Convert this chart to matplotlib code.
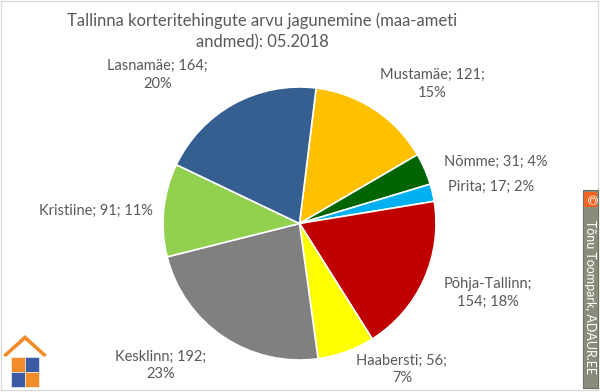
import matplotlib.pyplot as plt
from matplotlib.patches import Rectangle, Polygon

plt.rcParams['font.family'] = ['Lato', 'DejaVu Sans']

# data
districts = ["Mustamäe", "Nõmme", "Pirita", "Põhja-Tallinn",
             "Haabersti", "Kesklinn", "Kristiine", "Lasnamäe"]
deals = [121, 31, 17, 154, 56, 192, 91, 164]
shares = [15, 4, 2, 18, 7, 23, 11, 20]
title = "Tallinna korteritehingute arvu jagunemine (maa-ameti\nandmed): 05.2018"

colors = ["#FFC000", "#006400", "#00B0F0", "#C00000",
          "#FFFF00", "#808080", "#92D050", "#355E91"]

# label layout (radius units), where each label wraps
label_pos = [(0.97, 1.02), (1.44, 0.45), (1.40, 0.27), (1.38, -0.51),
             (0.75, -1.07), (-1.02, -1.04), (-1.49, 0.09), (-1.04, 1.09)]
wrap = ["count", None, None, "name", "count", "count", None, "count"]

W, H = 600, 392
fig = plt.figure(figsize=(W / 100, H / 100), dpi=100)

# outer chart frame
fig.patches.append(Rectangle((0.5 / W, 2 / H), 597.5 / W, 389 / H, transform=fig.transFigure,
                             fill=False, edgecolor="#D9D9D9", linewidth=1))

fig.text(262 / W, 1 - 31 / H, title, ha="center", va="center", fontsize=12,
         color="#595959", linespacing=1.4)

cx, cy, r = 299.5, H - 223.5, 136.5
ax = fig.add_axes([(cx - r) / W, (cy - r) / H, 2 * r / W, 2 * r / H])
ax.pie(deals, colors=colors, startangle=83, counterclock=False,
       wedgeprops=dict(edgecolor="white", linewidth=1.2))
ax.set_xlim(-1, 1)
ax.set_ylim(-1, 1)
ax.set_aspect("equal")
ax.axis("off")

for name, n, p, (x, y), w in zip(districts, deals, shares, label_pos, wrap):
    if w == "name":
        txt = f"{name};\n{n}; {p}%"
    elif w == "count":
        txt = f"{name}; {n};\n{p}%"
    else:
        txt = f"{name}; {n}; {p}%"
    ax.text(x, y, txt, ha="center", va="center", fontsize=10.5,
            color="#595959", linespacing=1.35, clip_on=False)

# copyright strip on the right
fig.patches.append(Rectangle((583 / W, 4 / H), 15 / W, 198 / H, transform=fig.transFigure,
                             facecolor="#8C8C7C", edgecolor="#6E6E62", linewidth=0.8))
fig.patches.append(Rectangle((584 / W, 185 / H), 13 / W, 15 / H, transform=fig.transFigure,
                             facecolor="#F26522", edgecolor="none"))
fig.text(590.5 / W, 192.5 / H, "©", ha="center", va="center", fontsize=9,
         color="white", rotation=-90)
fig.text(590.5 / W, 95 / H, "Tõnu Toompark, ADAUR.EE", ha="center", va="center",
         fontsize=9, color="white", rotation=-90)

# small logo: roof and puzzle house
lg = fig.add_axes([0 / W, 3 / H, 52 / W, 60 / H])
lg.set_xlim(0, 52)
lg.set_ylim(0, 60)
lg.axis("off")
orange, blue = "#F28C28", "#3B5BA5"
lg.add_patch(Polygon([(3, 34), (25, 54), (47, 34), (44, 32), (25, 49), (6, 32)],
                     closed=True, facecolor=orange, edgecolor="none"))
for (x0, y0, c) in [(11, 17, orange), (25, 17, blue), (11, 2, blue), (25, 2, orange)]:
    lg.add_patch(Rectangle((x0, y0), 14, 15, facecolor=c, edgecolor="white", linewidth=0.4))

fig.savefig("out.png", dpi=100)
